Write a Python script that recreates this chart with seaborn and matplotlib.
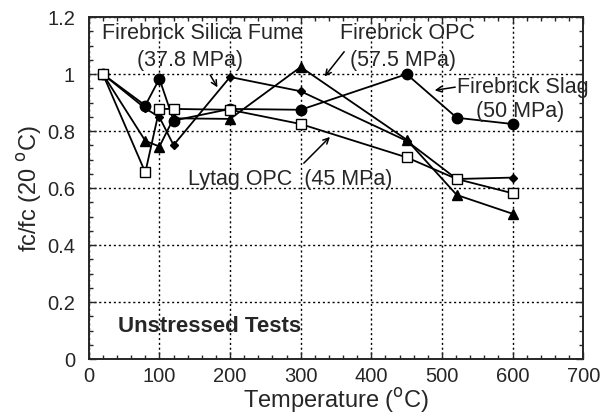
import matplotlib
matplotlib.use("Agg")
import numpy as np
import pandas as pd
import seaborn as sns
import matplotlib.pyplot as plt
from matplotlib.ticker import MultipleLocator, FormatStrFormatter

# Datos
temp = [20, 80, 100, 120, 200, 300, 450, 521, 600]
slag = [1.0, 0.89, 0.984, 0.837, 0.878, 0.875, 1.0, 0.847, 0.825]
silica = [1.0, 0.88, 0.849, 0.751, 0.99, 0.94, 0.766, 0.632, 0.637]
opc = [1.0, 0.766, 0.746, 0.845, 0.843, 1.025, 0.77, 0.576, 0.51]
lytag = [1.0, 0.655, 0.878, 0.878, 0.875, 0.825, 0.708, 0.632, 0.582]

x_ticks = [0, 100, 200, 300, 400, 500, 600, 700]
y_ticks = [0, 0.2, 0.4, 0.6, 0.8, 1.0, 1.2]

sns.set_style("ticks")
plt.rcParams['font.family'] = ['Liberation Sans', 'DejaVu Sans']

fig, ax = plt.subplots(figsize=(6, 4.19), dpi=100)
fig.subplots_adjust(left=0.148, right=0.972, top=0.959, bottom=0.143)

estilos = [
    (slag, "o", 7.5, "k"),
    (silica, "D", 4, "k"),
    (opc, "^", 6.5, "k"),
    (lytag, "s", 6.5, "white"),
]
for vals, mk, ms, fc in estilos:
    sns.lineplot(x=temp, y=vals, ax=ax, color="k", lw=1.3, marker=mk,
                 markersize=ms, markerfacecolor=fc, markeredgecolor="k",
                 markeredgewidth=1.0, sort=False)

ax.set_xlim(0, 700)
ax.set_ylim(0, 1.2)
ax.set_xticks(x_ticks)
ax.set_yticks(y_ticks)
ax.yaxis.set_major_formatter(FormatStrFormatter("%g"))
ax.xaxis.set_minor_locator(MultipleLocator(20))
ax.yaxis.set_minor_locator(MultipleLocator(0.05))
ax.tick_params(which="both", direction="in", top=True, right=True,
               labelsize=14.5, width=1)
ax.tick_params(which="major", length=5)
ax.tick_params(axis="x", which="major", pad=6)
ax.tick_params(axis="y", which="major", pad=10)
ax.tick_params(which="minor", length=3)
for s in ax.spines.values():
    s.set_linewidth(1.4)
ax.grid(True, which="major", color="k", linestyle=(0, (1.5, 2)), lw=1.0)

ax.set_xlabel("Temperature ($^{\\mathrm{o}}$C)", fontsize=17, labelpad=0)
ax.set_ylabel("fc/fc (20 $^{\\mathrm{o}}$C)", fontsize=17, labelpad=2)

# Etiquetas y flechas
def to_data(px, py):
    return (px - 89) / 0.706, (359 - py) / 283.5

def note(txt, pos, **kw):
    x, y = to_data(*pos)
    ax.text(x, y, txt, fontsize=15.5, va="center", **kw)

def arrow(p0, p1):
    ax.annotate("", xy=to_data(*p1), xytext=to_data(*p0),
                arrowprops=dict(arrowstyle="->", color="k", lw=1.1))

note("Firebrick Silica Fume", (203, 35), ha="center")
note("(37.8 MPa)", (190, 62), ha="center")
arrow((209, 74), (219, 91))

note("Firebrick OPC", (408, 35), ha="center")
note("(57.5 MPa)", (403, 62), ha="center")
arrow((346, 51), (323, 80))

note("Firebrick Slag", (457, 89), ha="left")
note("(50 MPa)", (520, 113), ha="center")
arrow((458, 88), (432, 92))

note("Lytag OPC  (45 MPa)", (188, 180), ha="left")
arrow((302, 166), (332, 136))

x, y = to_data(118, 327)
ax.text(x, y, "Unstressed Tests", fontsize=16, fontweight="bold",
        va="center", ha="left")

fig.savefig("out.png", dpi=100)
